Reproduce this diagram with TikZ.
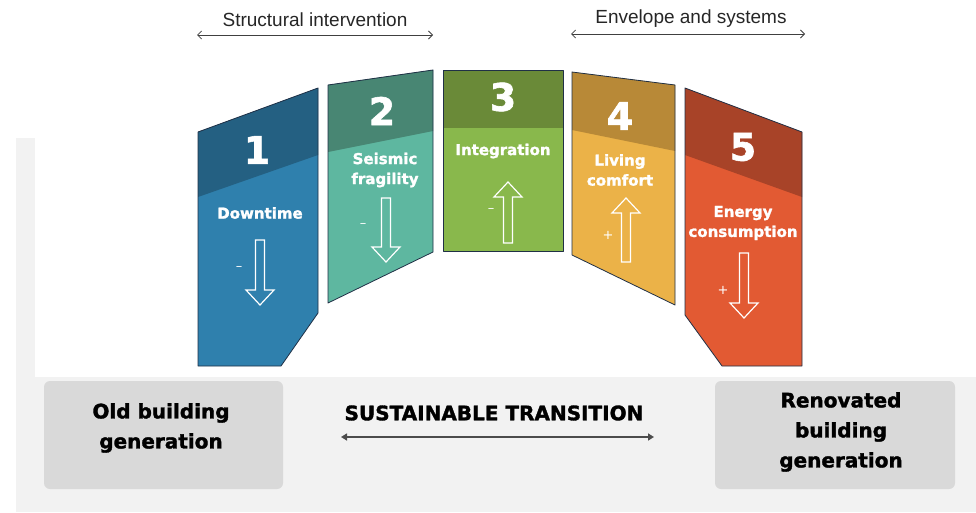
\documentclass[tikz,border=0pt]{standalone}
\usepackage{fontspec}
\setmainfont{DejaVu Sans}[BoldFeatures={FakeBold=1.6}]
\newfontfamily\labelfont{Liberation Sans}
\usetikzlibrary{arrows.meta}

\definecolor{onedark}{HTML}{246082}
\definecolor{onelight}{HTML}{2F80AD}
\definecolor{twodark}{HTML}{488673}
\definecolor{twolight}{HTML}{5EB7A0}
\definecolor{threedark}{HTML}{6A8A38}
\definecolor{threelight}{HTML}{89B84C}
\definecolor{fourdark}{HTML}{B88937}
\definecolor{fourlight}{HTML}{EBB248}
\definecolor{fivedark}{HTML}{A84328}
\definecolor{fivelight}{HTML}{E25A33}
\definecolor{panelrim}{HTML}{203046}
\definecolor{bggrey}{HTML}{F2F2F2}
\definecolor{boxgrey}{HTML}{D9D9D9}

\tikzset{panel/.style={draw=panelrim,line width=0.8pt,line join=round}}
\tikzset{number/.style={text=white,font=\bfseries\fontsize{38}{38}\selectfont}}
\tikzset{heading/.style={text=white,align=center,
                         font=\bfseries\fontsize{15}{20}\selectfont}}

% hollow block arrow: x, tail y, tip y, signed head length
\newcommand{\hollowarrow}[4]{%
  \draw[white,line width=1.2pt,line join=miter]
    ({#1-4.5},#2) -- ({#1+4.5},#2) -- ({#1+4.5},{#3-(#4)})
    -- ({#1+14},{#3-(#4)}) -- (#1,#3) -- ({#1-14},{#3-(#4)})
    -- ({#1-4.5},{#3-(#4)}) -- cycle;}

\begin{document}
\begin{tikzpicture}[x=1pt,y=-1pt]
    \tikzstyle{sign}=[text=white,font=\fontsize{13}{13}\selectfont]
    \tikzstyle{genbox}=[fill=boxgrey,rounded corners=6pt]
    \tikzstyle{gentext}=[align=center,font=\bfseries\fontsize{20}{30}\selectfont]
    \tikzstyle{toplabel}=[text=black!85,font=\labelfont\fontsize{19}{19}\selectfont]
    \tikzstyle{span}=[draw=black!75,line width=0.8pt,
                      {Straight Barb[length=4pt,width=8pt]}-{Straight Barb[length=4pt,width=8pt]}]

    \useasboundingbox (0,0) rectangle (976,513);

    % Background
    \fill[bggrey] (16,138) rectangle (976,512);
    \fill[white] (35,138) rectangle (976,377);

    % Panel 1
    \fill[onelight] (198,132) -- (318,88) -- (318,313) -- (281,366) -- (198,366) -- cycle;
    \fill[onedark] (198,132) -- (318,88) -- (318,155) -- (198,197) -- cycle;
    \draw[panel] (198,132) -- (318,88) -- (318,313) -- (281,366) -- (198,366) -- cycle;

    % Panel 2
    \fill[twolight] (328,85) -- (433,70) -- (433,252) -- (328,303) -- cycle;
    \fill[twodark] (328,85) -- (433,70) -- (433,131) -- (328,152) -- cycle;
    \draw[panel] (328,85) -- (433,70) -- (433,252) -- (328,303) -- cycle;

    % Panel 3
    \fill[threelight] (443,70) rectangle (563,251);
    \fill[threedark] (443,70) rectangle (563,128);
    \draw[panel] (443,70) rectangle (563,251);

    % Panel 4
    \fill[fourlight] (572,72) -- (675,85) -- (675,305) -- (572,255) -- cycle;
    \fill[fourdark] (572,72) -- (675,85) -- (675,151) -- (572,130) -- cycle;
    \draw[panel] (572,72) -- (675,85) -- (675,305) -- (572,255) -- cycle;

    % Panel 5
    \fill[fivelight] (685,88) -- (802,132) -- (802,366) -- (722,366) -- (685,315) -- cycle;
    \fill[fivedark] (685,88) -- (802,132) -- (802,197) -- (685,155) -- cycle;
    \draw[panel] (685,88) -- (802,132) -- (802,366) -- (722,366) -- (685,315) -- cycle;

    % Numbers and headings
    \foreach \name / \x / \y in {1/257/150, 2/382/111, 3/503/97, 4/620/116, 5/743/147}
        \node[number] (num-\name) at (\x,\y) {\name};
    \node[heading] (head-1) at (260,213) {Downtime};
    \node[heading] (head-2) at (385,170) {Seismic\\fragility};
    \node[heading] (head-3) at (503,151) {Integration};
    \node[heading] (head-4) at (620,170) {Living\\comfort};
    \node[heading] (head-5) at (743,223) {Energy\\consumption};

    % Trend arrows with their signs
    \hollowarrow{260}{240}{305}{15}
    \hollowarrow{386}{198}{262}{15}
    \hollowarrow{508}{243}{182}{-15}
    \hollowarrow{626}{262}{198}{-15}
    \hollowarrow{744}{253}{318}{15}
    \node[sign] (sign-1) at (239,268) {–};
    \node[sign] (sign-2) at (363,225) {–};
    \node[sign] (sign-3) at (491,210) {–};
    \node[sign] (sign-4) at (608,235) {+};
    \node[sign] (sign-5) at (723,290) {+};

    % Groups above the panels
    \node[toplabel] (struct) at (315,20) {Structural intervention};
    \node[toplabel] (envel) at (691,19) {Envelope and systems};
    \coordinate (struct-l) at (197,35);
    \coordinate (struct-r) at (433,35);
    \coordinate (envel-l) at (571,34);
    \coordinate (envel-r) at (805,34);
    \draw[span] (struct-l) -- (struct-r);
    \draw[span] (envel-l) -- (envel-r);

    % Building generations
    \fill[genbox] (44,381) rectangle (283,489);
    \fill[genbox] (715,381) rectangle (955,489);
    \node[gentext] (old) at (161,428) {Old building\\generation};
    \node[gentext] (new) at (841,432) {Renovated\\building\\generation};

    \node[font=\bfseries\fontsize{20}{20}\selectfont] (trans) at (494,413) {SUSTAINABLE TRANSITION};
    \coordinate (trans-l) at (341,437);
    \coordinate (trans-r) at (654,437);
    \draw[draw=black!70,line width=2pt,{Triangle[length=6pt,width=7pt]}-{Triangle[length=6pt,width=7pt]}]
        (trans-l) -- (trans-r);
\end{tikzpicture}
\end{document}
